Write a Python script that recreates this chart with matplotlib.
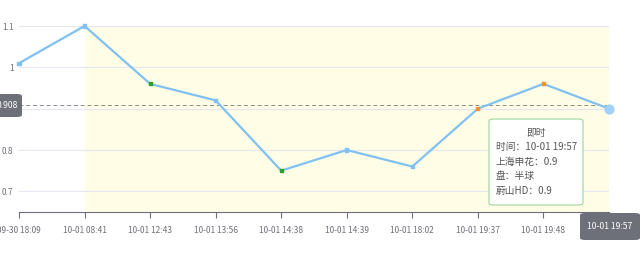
import matplotlib
matplotlib.use("Agg")
import matplotlib.pyplot as plt
from matplotlib.patches import FancyBboxPatch

plt.rcParams["font.family"] = ["Noto Sans CJK SC", "DejaVu Sans"]

times = ["09-30 18:09", "10-01 08:41", "10-01 12:43", "10-01 13:56", "10-01 14:38",
         "10-01 14:39", "10-01 18:02", "10-01 19:37", "10-01 19:48", "10-01 19:57"]
values = [1.01, 1.1, 0.96, 0.92, 0.75, 0.8, 0.76, 0.9, 0.96, 0.9]
marker_colors = ["#80c1f2", "#80c1f2", "#2ca02c", "#80c1f2", "#2ca02c",
                 "#80c1f2", "#80c1f2", "#f5902a", "#f5902a", "#80c1f2"]
avg_line = 0.908
y_ticks = [0.7, 0.8, 0.9, 1.0, 1.1]
y_tick_labels = ["0.7", "0.8", "", "1", "1.1"]
area_start = 1
tooltip_lines = ["时间：10-01 19:57", "上海申花：0.9", "盘：半球", "蔚山HD：0.9"]

W, H = 643, 257
fig = plt.figure(figsize=(W / 100, H / 100), dpi=100)


def px(x, y):
    return x / W, 1 - y / H


def rounded_box(x0, y0, x1, y1, fc, ec="none", lw=0, z=10):
    b = FancyBboxPatch(px(x0, y1), (x1 - x0) / W, (y1 - y0) / H,
                       boxstyle="round,pad=0,rounding_size=0.008", transform=fig.transFigure,
                       fc=fc, ec=ec, lw=lw, zorder=z)
    fig.add_artist(b)


left, right, top, bottom = 19, 609, 26, 212
ax = fig.add_axes([left / W, 1 - bottom / H, (right - left) / W, (bottom - top) / H])
ax.set_xlim(0, len(times) - 1)
ax.set_ylim(0.65, 1.1)
for s in ["top", "right", "left"]:
    ax.spines[s].set_visible(False)
ax.spines["bottom"].set_color("#6e7079")
ax.spines["bottom"].set_linewidth(0.8)

# grid
for t in y_ticks:
    ax.axhline(t, color="#e4e7ef", lw=0.8, zorder=1)

# mark area
ax.axvspan(area_start, len(times) - 1, color="#fffde6", zorder=0, lw=0)

# line + markers
x = list(range(len(times)))
ax.plot(x, values, color="#80c1f2", lw=1.6, zorder=3, clip_on=False)
ax.scatter(x[:-1], values[:-1], c=marker_colors[:-1], marker="s", s=5, zorder=4, clip_on=False)
ax.scatter([x[-1]], [values[-1]], color="#a3d0f5", s=40, zorder=5, clip_on=False)

# avg mark line
ax.axhline(avg_line, color="#8c8c8c", lw=0.7, ls=(0, (4, 3)), zorder=2)

# axis pointer
ax.axvline(x[-1], color="#c8c8c8", lw=0.7, ls=(0, (3, 3)), zorder=2)

ax.set_yticks(y_ticks)
ax.set_yticklabels(y_tick_labels)
ax.tick_params(axis="y", length=0, labelsize=6, labelcolor="#6e7079", pad=4)
ax.set_xticks(x)
ax.set_xticklabels(times[:-1] + [""])
ax.tick_params(axis="x", length=4, color="#6e7079", width=0.8, labelsize=6,
               labelcolor="#6e7079", pad=6)

# mark line label box (partly off the left edge, as in the original)
rounded_box(-6, 94, 22, 117, "#6e7079")
fig.text(*px(7, 105.5), "0.908", ha="center", va="center", fontsize=6.2, color="white", zorder=11)

# axis pointer label
rounded_box(580, 213, 640, 240, "#6e7079")
fig.text(*px(610, 226.5), times[-1], ha="center", va="center", fontsize=6.2, color="white", zorder=11)

# tooltip
rounded_box(489, 119, 583, 205, "white", ec="#9ad69a", lw=0.8)
fig.text(*px(536, 133), "即时", ha="center", va="center", fontsize=7, color="#555555", zorder=11)
for i, line in enumerate(tooltip_lines):
    fig.text(*px(496, 147 + i * 14.5), line, ha="left", va="center", fontsize=7,
             color="#555555", zorder=11)

fig.savefig("out.png", dpi=100)
